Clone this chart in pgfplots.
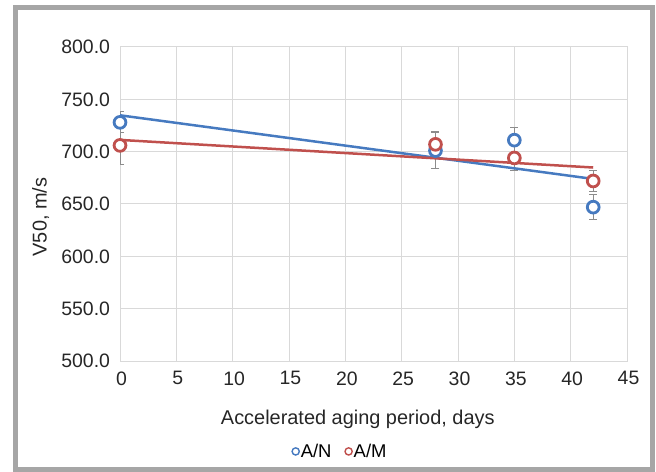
\documentclass[border=0pt]{standalone}
\usepackage{fontspec}
\setmainfont{Liberation Sans}
\usepackage{pgfplots}
\pgfplotsset{compat=1.18}
\usepackage{pgfplotstable}

\definecolor{seriesblue}{RGB}{70,122,192}
\definecolor{seriesred}{RGB}{192,80,77}
\definecolor{gridgray}{RGB}{217,217,217}
\definecolor{framegray}{RGB}{166,166,166}
\definecolor{errgray}{RGB}{140,140,140}

% V50 against accelerated aging period: mean and standard deviation
\pgfplotstableread{
x  y   err
0  728 10
28 701 17
35 711 12
42 647 12
}\seriesAN
\pgfplotstableread{
x  y   err
0  706 18
28 707 12
35 694 12
42 672 10
}\seriesAM

\begin{document}
\begin{tikzpicture}
\useasboundingbox (0,0) rectangle (656bp,472bp);
% outer chart frame
\draw[framegray, line width=5bp] (15bp,2bp) rectangle (652.7bp,464bp);
\begin{axis}[
  at={(120bp,111bp)}, anchor=south west,
  scale only axis, width=507bp, height=314bp,
  xmin=0, xmax=45, ymin=500, ymax=800,
  xtick={0,5,...,45}, ytick={500,550,...,800},
  grid=major,
  major grid style={gridgray, line width=1bp},
  axis line style={gridgray, line width=1bp},
  major tick length=0pt,
  /pgf/number format/assume math mode=true,
  yticklabel={\pgfmathprintnumber[fixed, fixed zerofill, precision=1]{\tick}},
  xticklabel style={font=\fontsize{19.5}{21}\selectfont, color=black!85, yshift=-7bp, xshift=1.5bp},
  yticklabel style={font=\fontsize{19.5}{21}\selectfont, color=black!85, xshift=-6.5bp},
  xlabel={Accelerated aging period, days},
  ylabel={V50, m/s},
  xlabel style={font=\fontsize{20}{22}\selectfont, color=black!85,
    at={(axis description cs:0.469,-0.2016)}, anchor=base},
  ylabel style={font=\fontsize{20}{22}\selectfont, color=black!85,
    at={(axis description cs:-0.1446,0.4586)}, anchor=base},
  legend columns=-1,
  legend image code/.code={\draw[#1] plot coordinates {(0bp,0bp)};},
  legend style={at={(axis description cs:0.434,-0.288)}, anchor=center,
    draw=none, fill=none, inner sep=0pt, nodes={inner sep=1.5bp},
    font=\fontsize{18.5}{20}\selectfont,
    /tikz/every even column/.append style={column sep=12bp}},
]
% error bars
\addplot[forget plot, only marks, mark=none,
  error bars/.cd, y dir=both, y explicit,
  error bar style={errgray, line width=1bp},
  error mark options={errgray, rotate=90, mark size=4bp, line width=1bp}]
  table[x=x, y=y, y error=err] {\seriesAN};
\addplot[forget plot, only marks, mark=none,
  error bars/.cd, y dir=both, y explicit,
  error bar style={errgray, line width=1bp},
  error mark options={errgray, rotate=90, mark size=4bp, line width=1bp}]
  table[x=x, y=y, y error=err] {\seriesAM};
% linear trend lines
\addplot[forget plot, seriesblue, line width=2.5bp, no marks]
  table[x=x, y={create col/linear regression={y=y}}] {\seriesAN};
\addplot[forget plot, seriesred, line width=2.5bp, no marks]
  table[x=x, y={create col/linear regression={y=y}}] {\seriesAM};
% measured points
\addplot[forget plot, only marks, mark=*, mark size=5.9bp,
  mark options={draw=seriesblue, fill=white, line width=2.8bp}]
  table[x=x, y=y] {\seriesAN};
\addplot[forget plot, only marks, mark=*, mark size=5.9bp,
  mark options={draw=seriesred, fill=white, line width=2.8bp}]
  table[x=x, y=y] {\seriesAM};
% legend
\addlegendimage{only marks, mark=*, mark size=3.6bp,
  mark options={draw=seriesblue, fill=white, line width=1.4bp}}
\addlegendentry{A/N}
\addlegendimage{only marks, mark=*, mark size=3.6bp,
  mark options={draw=seriesred, fill=white, line width=1.4bp}}
\addlegendentry{A/M}
\end{axis}
\end{tikzpicture}
\end{document}
